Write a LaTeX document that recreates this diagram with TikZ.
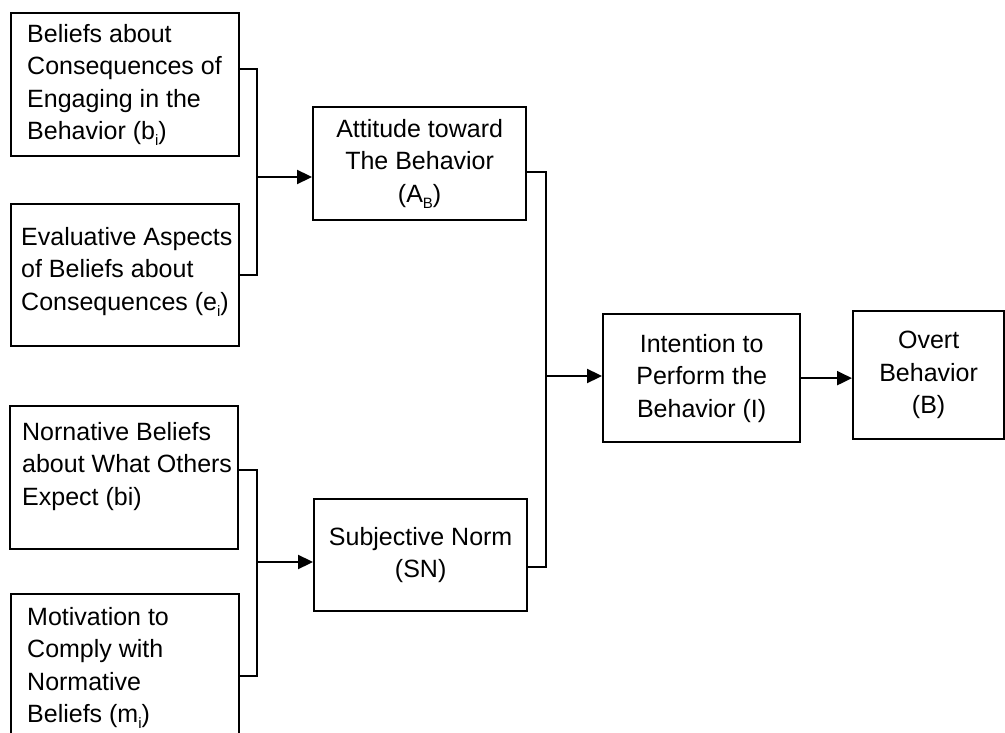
\documentclass[tikz,border=0pt]{standalone}
\usepackage{fontspec}
\setmainfont{Liberation Sans}
\usetikzlibrary{arrows.meta,calc}

% small, lowered index letter
\newcommand{\idx}[1]{\raisebox{-0.45ex}{\fontsize{15}{15}\selectfont #1}}

\begin{document}
\begin{tikzpicture}[x=1pt,y=-1pt,
  every node/.style={font=\fontsize{25}{32.5}\selectfont},
  box/.style={draw=black, line width=2.3pt, rectangle, inner sep=0pt, anchor=north west},
  ctext/.style={box, align=center},
  ltext/.style={inner sep=0pt, anchor=north west, align=left},
  link/.style={draw=black, line width=2.3pt},
  arr/.style={link, -{Triangle[length=15pt,width=14pt]}}]

\useasboundingbox (0,0) rectangle (1005,733);
\clip (0,0) rectangle (1005,733);

% belief boxes on the left
\node[box, minimum width=228pt, minimum height=143pt] (b1) at (10,12) {};
\node[ltext] (t1) at (27,24) {Beliefs about\\Consequences of\\Engaging in the\\Behavior (b\idx{i})};

\node[box, minimum width=228pt, minimum height=142pt] (b2) at (10,203) {};
\node[ltext] (t2) at (21,227) {Evaluative Aspects\\of Beliefs about\\Consequences (e\idx{i})};

\node[box, minimum width=228pt, minimum height=143pt] (b3) at (9,405) {};
\node[ltext] (t3) at (22,422) {Nornative Beliefs\\about What Others\\Expect (bi)};

\node[box, minimum width=228pt, minimum height=167pt] (b4) at (10,593) {};
\node[ltext] (t4) at (27,607) {Motivation to\\Comply with\\Normative\\Beliefs (m\idx{i})};

% middle and right boxes
\node[ctext, minimum width=213pt, minimum height=113pt] (att) at (312,106)
  {Attitude toward\\The Behavior\\(A\idx{B})};
\node[ctext, minimum width=213pt, minimum height=112pt] (sn) at (313,498)
  {Subjective Norm\\(SN)};
\node[ctext, minimum width=197pt, minimum height=128pt] (int) at (602,313)
  {Intention to\\Perform the\\Behavior (I)};
\node[ctext, minimum width=151pt, minimum height=128pt] (ov) at (852,310)
  {Overt\\Behavior\\(B)};

% junction points
\coordinate (j1) at (257,177);
\coordinate (j2) at (257,562);
\coordinate (j3) at (546,376);

% brackets and arrows
\draw[link] ($(b1.north east)+(0,57)$) -| (j1) |- (b2.east);
\draw[arr] (j1) -- (j1 -| att.west);

\draw[link] ($(b3.north east)+(0,65)$) -| (j2) |- ($(b4.north east)+(0,83)$);
\draw[arr] (j2) -- (j2 -| sn.west);

\draw[link] ($(att.north east)+(0,66)$) -| (j3) |- ($(sn.north east)+(0,69)$);
\draw[arr] (j3) -- (j3 -| int.west);

\draw[arr] (int.east) -- (int.east -| ov.west);
\end{tikzpicture}
\end{document}
